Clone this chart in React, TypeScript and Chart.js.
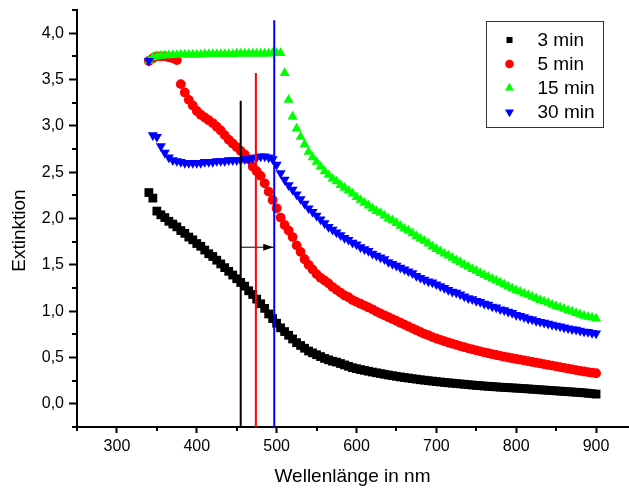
import React, { useEffect, useRef } from 'react';
import { Chart, registerables } from 'chart.js';
import { drawPoint } from 'chart.js/helpers';

Chart.register(...registerables);

// Wavelengths (nm)
const wavelengths = [
  340, 345, 350, 355, 360, 365, 370, 375, 380, 385,
  390, 395, 400, 405, 410, 415, 420, 425, 430, 435,
  440, 445, 450, 455, 460, 465, 470, 475, 480, 485,
  490, 495, 500, 505, 510, 515, 520, 525, 530, 535,
  540, 545, 550, 555, 560, 565, 570, 575, 580, 585,
  590, 595, 600, 605, 610, 615, 620, 625, 630, 635,
  640, 645, 650, 655, 660, 665, 670, 675, 680, 685,
  690, 695, 700, 705, 710, 715, 720, 725, 730, 735,
  740, 745, 750, 755, 760, 765, 770, 775, 780, 785,
  790, 795, 800, 805, 810, 815, 820, 825, 830, 835,
  840, 845, 850, 855, 860, 865, 870, 875, 880, 885,
  890, 895, 900,
];

const ext3min = [
  2.28, 2.22, 2.08, 2.04, 2.01, 1.97, 1.94, 1.91, 1.87, 1.84,
  1.80, 1.77, 1.73, 1.70, 1.66, 1.62, 1.59, 1.55, 1.51, 1.47,
  1.43, 1.39, 1.35, 1.31, 1.27, 1.22, 1.18, 1.13, 1.08, 1.03,
  0.97, 0.92, 0.87, 0.82, 0.78, 0.74, 0.70, 0.66, 0.63, 0.60,
  0.57, 0.55, 0.53, 0.51, 0.49, 0.475, 0.46, 0.45, 0.435, 0.42,
  0.405, 0.39, 0.38, 0.37, 0.361, 0.352, 0.343, 0.335, 0.327, 0.319,
  0.311, 0.304, 0.297, 0.29, 0.284, 0.278, 0.272, 0.266, 0.26, 0.255,
  0.25, 0.245, 0.24, 0.236, 0.231, 0.227, 0.223, 0.219, 0.215, 0.211,
  0.207, 0.203, 0.199, 0.196, 0.192, 0.189, 0.186, 0.183, 0.18, 0.177,
  0.175, 0.172, 0.17, 0.167, 0.164, 0.161, 0.158, 0.155, 0.152, 0.149,
  0.146, 0.143, 0.14, 0.137, 0.134, 0.131, 0.128, 0.125, 0.122, 0.119,
  0.114, 0.11, 0.105,
];

const ext5min = [
  3.70, 3.73, 3.75, 3.75, 3.75, 3.74, 3.73, 3.71, 3.45, 3.36,
  3.28, 3.22, 3.16, 3.12, 3.09, 3.06, 3.03, 2.99, 2.95, 2.90,
  2.85, 2.81, 2.77, 2.73, 2.69, 2.64, 2.56, 2.51, 2.46, 2.38,
  2.29, 2.20, 2.11, 2.01, 1.93, 1.87, 1.80, 1.71, 1.64, 1.56,
  1.50, 1.45, 1.40, 1.36, 1.33, 1.30, 1.26, 1.23, 1.20, 1.17,
  1.15, 1.12, 1.10, 1.08, 1.06, 1.04, 1.02, 0.995, 0.975, 0.955,
  0.935, 0.915, 0.895, 0.875, 0.855, 0.835, 0.815, 0.795, 0.775, 0.755,
  0.74, 0.72, 0.705, 0.69, 0.676, 0.662, 0.649, 0.636, 0.623, 0.611,
  0.599, 0.588, 0.577, 0.566, 0.556, 0.546, 0.536, 0.527, 0.518, 0.509,
  0.5, 0.492, 0.484, 0.476, 0.468, 0.46, 0.452, 0.444, 0.436, 0.428,
  0.42, 0.412, 0.404, 0.396, 0.388, 0.38, 0.372, 0.364, 0.356, 0.349,
  0.342, 0.336, 0.33,
];

const ext15min = [
  3.70, 3.74, 3.75, 3.755, 3.76, 3.76, 3.765, 3.765, 3.77, 3.77,
  3.77, 3.77, 3.77, 3.77, 3.775, 3.775, 3.775, 3.775, 3.775, 3.775,
  3.775, 3.775, 3.78, 3.78, 3.78, 3.78, 3.78, 3.78, 3.78, 3.78,
  3.78, 3.785, 3.785, 3.785, 3.57, 3.28, 3.10, 2.97, 2.88, 2.80,
  2.72, 2.66, 2.61, 2.56, 2.51, 2.47, 2.43, 2.40, 2.36, 2.33,
  2.30, 2.27, 2.23, 2.20, 2.17, 2.14, 2.11, 2.08, 2.06, 2.03,
  2.00, 1.98, 1.95, 1.92, 1.89, 1.87, 1.84, 1.81, 1.78, 1.76,
  1.73, 1.70, 1.67, 1.645, 1.62, 1.60, 1.575, 1.55, 1.53, 1.50,
  1.48, 1.455, 1.435, 1.41, 1.39, 1.37, 1.35, 1.33, 1.31, 1.29,
  1.265, 1.245, 1.225, 1.21, 1.19, 1.175, 1.155, 1.14, 1.12, 1.105,
  1.09, 1.07, 1.055, 1.04, 1.025, 1.01, 0.995, 0.98, 0.965, 0.95,
  0.94, 0.93, 0.92,
];

const ext30min = [
  3.70, 2.90, 2.88, 2.78, 2.71, 2.66, 2.63, 2.62, 2.61, 2.60,
  2.60, 2.60, 2.60, 2.60, 2.61, 2.61, 2.61, 2.62, 2.62, 2.62,
  2.63, 2.63, 2.63, 2.63, 2.64, 2.64, 2.65, 2.66, 2.67, 2.67,
  2.66, 2.64, 2.58, 2.49, 2.42, 2.36, 2.31, 2.26, 2.21, 2.16,
  2.11, 2.07, 2.03, 1.99, 1.95, 1.91, 1.88, 1.85, 1.82, 1.79,
  1.77, 1.74, 1.72, 1.69, 1.67, 1.65, 1.62, 1.60, 1.58, 1.56,
  1.53, 1.51, 1.49, 1.47, 1.45, 1.43, 1.41, 1.38, 1.36, 1.34,
  1.32, 1.31, 1.29, 1.27, 1.25, 1.23, 1.21, 1.20, 1.18, 1.16,
  1.14, 1.13, 1.11, 1.10, 1.08, 1.07, 1.05, 1.04, 1.02, 1.01,
  0.995, 0.98, 0.96, 0.95, 0.935, 0.92, 0.91, 0.895, 0.885, 0.875,
  0.865, 0.855, 0.845, 0.835, 0.825, 0.815, 0.805, 0.80, 0.79, 0.78,
  0.775, 0.765, 0.76,
];

const seriesLabels = ['3 min', '5 min', '15 min', '30 min'];
const seriesColors = ['#000000', '#ff0000', '#00ff00', '#0000ff'];
const seriesStyles = ['rect', 'circle', 'triangle', 'triangle'];
const seriesRotations = [0, 0, 0, 180];
const seriesRadii = [6.2, 4.9, 5.8, 5.8];
const legendRadii = [4.3, 4.3, 5.2, 5.2];

// Marker lines (peak positions) and shift arrow
const peakWavelengths = [455, 474, 497];
const peakTops = [3.27, 3.57, 4.14];
const peakColors = ['#000000', '#ff0000', '#0000ff'];
const arrowStart = 455;
const arrowEnd = 497;
const arrowLevel = 1.69;

// Axes
const xMin = 250;
const xMax = 940;
const yMin = -0.25;
const yMax = 4.25;
const xMajorTicks = [300, 400, 500, 600, 700, 800, 900];
const xMinorTicks = [250, 350, 450, 550, 650, 750, 850];
const yMajorTicks = [0, 0.5, 1.0, 1.5, 2.0, 2.5, 3.0, 3.5, 4.0];
const yMinorTicks = [-0.25, 0.25, 0.75, 1.25, 1.75, 2.25, 2.75, 3.25, 3.75, 4.25];
const xTitle = 'Wellenlänge in nm';
const yTitle = 'Extinktion';

const FONT = "'Liberation Sans', Arial, sans-serif";

const extrasPlugin = {
  id: 'extras',
  afterDraw(chart: any) {
    const ctx = chart.ctx;
    const xs = chart.scales.x;
    const ys = chart.scales.y;
    const area = chart.chartArea;
    ctx.save();
    // minor ticks
    ctx.strokeStyle = '#000';
    ctx.lineWidth = 2;
    ctx.beginPath();
    xMinorTicks.forEach((v) => {
      const px = Math.round(xs.getPixelForValue(v));
      ctx.moveTo(px, area.bottom);
      ctx.lineTo(px, area.bottom + 4);
    });
    yMinorTicks.forEach((v) => {
      const py = Math.round(ys.getPixelForValue(v));
      ctx.moveTo(area.left - 5, py);
      ctx.lineTo(area.left, py);
    });
    ctx.stroke();

    // y title
    ctx.fillStyle = '#000';
    ctx.font = `19px ${FONT}`;
    ctx.textAlign = 'center';
    ctx.textBaseline = 'middle';
    ctx.save();
    ctx.translate(20, (area.top + area.bottom) / 2 + 12);
    ctx.rotate(-Math.PI / 2);
    ctx.fillText(yTitle, 0, 0);
    ctx.restore();

    // arrow head
    const tipX = xs.getPixelForValue(arrowEnd);
    const ay = ys.getPixelForValue(arrowLevel);
    ctx.fillStyle = '#000';
    ctx.beginPath();
    ctx.moveTo(tipX - 1, ay);
    ctx.lineTo(tipX - 11, ay - 3.5);
    ctx.lineTo(tipX - 11, ay + 3.5);
    ctx.closePath();
    ctx.fill();

    // legend
    const bx = Math.round(area.right - 142) + 0.5;
    const by = Math.round(area.top + 11) + 0.5;
    const bw = 117;
    const bh = 106;
    ctx.fillStyle = '#fff';
    ctx.fillRect(bx, by, bw, bh);
    ctx.strokeStyle = '#333';
    ctx.lineWidth = 1;
    ctx.strokeRect(bx, by, bw, bh);
    ctx.font = `19px ${FONT}`;
    ctx.textBaseline = 'middle';
    ctx.textAlign = 'left';
    seriesLabels.forEach((label, i) => {
      const cy = by + 18.5 + i * 24;
      ctx.fillStyle = seriesColors[i];
      ctx.strokeStyle = seriesColors[i];
      drawPoint(
        ctx,
        {
          pointStyle: seriesStyles[i],
          rotation: seriesRotations[i],
          radius: legendRadii[i],
          borderWidth: 0,
        } as any,
        bx + 23,
        cy
      );
      ctx.fillStyle = '#000';
      ctx.fillText(label, bx + 51, cy + 1);
    });
    ctx.restore();
  },
};

export default function App() {
  const canvasRef = useRef<HTMLCanvasElement | null>(null);

  useEffect(() => {
    if (!canvasRef.current) return;
    Chart.defaults.font.family = FONT;
    Chart.defaults.color = '#000';

    const seriesData = [ext3min, ext5min, ext15min, ext30min];
    const datasets: any[] = seriesData.map((vals, i) => ({
      label: seriesLabels[i],
      data: wavelengths.map((w, j) => ({ x: w, y: vals[j] })),
      showLine: false,
      pointStyle: seriesStyles[i],
      rotation: seriesRotations[i],
      pointRadius: seriesRadii[i],
      pointBackgroundColor: seriesColors[i],
      pointBorderWidth: 0,
      borderColor: seriesColors[i],
      order: 4 - i,
    }));

    peakWavelengths.forEach((w, i) => {
      datasets.push({
        label: 'peak' + i,
        data: [
          { x: w, y: yMin },
          { x: w, y: peakTops[i] },
        ],
        showLine: true,
        pointRadius: 0,
        borderColor: peakColors[i],
        borderWidth: 2,
        order: 0,
      });
    });
    datasets.push({
      label: 'shift',
      data: [
        { x: arrowStart, y: arrowLevel },
        { x: arrowEnd, y: arrowLevel },
      ],
      showLine: true,
      pointRadius: 0,
      borderColor: '#000',
      borderWidth: 1,
      order: 0,
    });

    const chart = new Chart(canvasRef.current, {
      type: 'scatter',
      data: { datasets },
      options: {
        animation: false,
        responsive: false,
        maintainAspectRatio: false,
        events: [],
        layout: { autoPadding: false, padding: { top: 10, right: 1, left: 0, bottom: 0 } },
        plugins: { legend: { display: false }, tooltip: { enabled: false } },
        scales: {
          x: {
            type: 'linear',
            min: xMin,
            max: xMax,
            afterBuildTicks: (s: any) => {
              s.ticks = xMajorTicks.map((v) => ({ value: v }));
            },
            afterFit: (s: any) => {
              s.height = 63;
              s.paddingLeft = 0;
              s.paddingRight = 0;
            },
            ticks: {
              font: { size: 16 },
              padding: 4,
              maxRotation: 0,
              callback: (v: any) => String(v),
            },
            grid: { drawOnChartArea: false, color: '#000', tickLength: 6, tickWidth: 2 },
            border: { display: true, color: '#000', width: 2 },
            title: {
              display: true,
              text: xTitle,
              font: { size: 19 },
              padding: { top: 0, bottom: 2 },
            },
          },
          y: {
            type: 'linear',
            min: yMin,
            max: yMax,
            afterBuildTicks: (s: any) => {
              s.ticks = yMajorTicks.map((v) => ({ value: v }));
            },
            afterFit: (s: any) => {
              s.width = 77;
              s.paddingTop = 0;
              s.paddingBottom = 0;
            },
            ticks: {
              font: { size: 16 },
              padding: 5,
              callback: (v: any) => Number(v).toFixed(1).replace('.', ','),
            },
            grid: { drawOnChartArea: false, color: '#000', tickLength: 8, tickWidth: 2 },
            border: { display: true, color: '#000', width: 2 },
            title: { display: false },
          },
        },
      },
      plugins: [extrasPlugin],
    } as any);

    return () => chart.destroy();
  }, []);

  return (
    <div style={{ position: 'fixed', left: 0, top: 0, width: 629, height: 490, background: '#fff' }}>
      <canvas ref={canvasRef} width={629} height={490} />
    </div>
  );
}
